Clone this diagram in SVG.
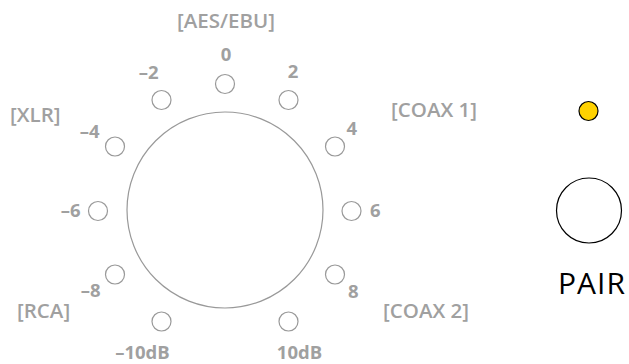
<svg xmlns="http://www.w3.org/2000/svg" width="629" height="364" viewBox="0 0 629 364">
<style>
.lbl{font-family:"Open Sans","Liberation Sans",sans-serif;font-weight:600;fill:#a0a0a0;font-size:20.5px}
.num{font-family:"Open Sans","Liberation Sans",sans-serif;font-weight:700;fill:#a0a0a0;font-size:18.5px}
.pos{fill:#fff;stroke:#999;stroke-width:1.2}
.pair{font-family:"Open Sans","Liberation Sans",sans-serif;font-size:30px;fill:#000;letter-spacing:1px}
</style>
<rect width="629" height="364" fill="#fff"/>
<g id="knob"><circle cx="225" cy="210" r="98" fill="#fff" stroke="#999" stroke-width="1.2"/></g>
<g id="positions">
<circle class="pos" cx="225" cy="84" r="9.5"/>
<circle class="pos" cx="288.5" cy="100" r="9.5"/>
<circle class="pos" cx="161.5" cy="100" r="9.5"/>
<circle class="pos" cx="335" cy="146.5" r="9.5"/>
<circle class="pos" cx="115" cy="146.5" r="9.5"/>
<circle class="pos" cx="351.5" cy="211" r="9.5"/>
<circle class="pos" cx="98" cy="211" r="9.5"/>
<circle class="pos" cx="335" cy="274.5" r="9.5"/>
<circle class="pos" cx="115" cy="274.5" r="9.5"/>
<circle class="pos" cx="288.5" cy="321.5" r="9.5"/>
<circle class="pos" cx="161.5" cy="321.5" r="9.5"/>
</g>
<g id="labels">
<text class="lbl" x="226" y="28" text-anchor="middle">[AES/EBU]</text>
<text class="lbl" x="10" y="121.5">[XLR]</text>
<text class="lbl" x="391" y="116.5">[COAX 1]</text>
<text class="lbl" x="17" y="318">[RCA]</text>
<text class="lbl" x="383" y="318">[COAX 2]</text>
<text class="num" x="226" y="61" text-anchor="middle">0</text>
<text class="num" x="293" y="77.5" text-anchor="middle">2</text>
<text class="num" x="158.5" y="79" text-anchor="end">–2</text>
<text class="num" x="99.5" y="138" text-anchor="end">–4</text>
<text class="num" x="346.5" y="135">4</text>
<text class="num" x="80.5" y="216.5" text-anchor="end">–6</text>
<text class="num" x="370" y="216.5">6</text>
<text class="num" x="100.5" y="296.5" text-anchor="end">–8</text>
<text class="num" x="348" y="298">8</text>
<text class="num" x="142.5" y="358.5" text-anchor="middle">–10dB</text>
<text class="num" x="299.5" y="358.5" text-anchor="middle">10dB</text>
</g>
<g id="led"><circle cx="588.5" cy="111" r="9.5" fill="#ffd200" stroke="#000" stroke-width="1.2"/></g>
<g id="pair-button"><circle cx="589" cy="210.5" r="32.5" fill="#fff" stroke="#000" stroke-width="1.2"/>
<text class="pair" x="592" y="294" text-anchor="middle">PAIR</text></g>
<g id="connectors"/>
</svg>
